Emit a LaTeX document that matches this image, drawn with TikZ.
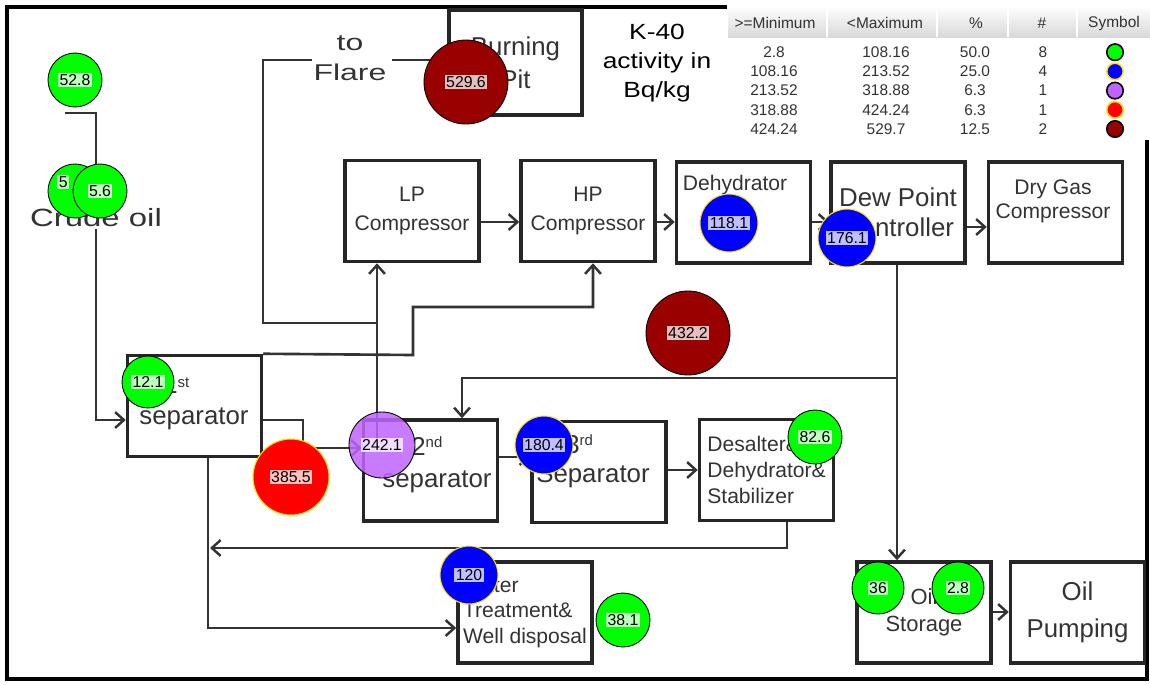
\documentclass[tikz,border=0pt]{standalone}
\usepackage{fontspec}
\setmainfont{Liberation Sans}
\usetikzlibrary{arrows.meta,calc,positioning}

\definecolor{kgreen}{RGB}{0,255,0}
\definecolor{kblue}{RGB}{0,0,255}
\definecolor{kpurple}{RGB}{192,100,255}
\definecolor{kred}{RGB}{255,0,0}
\definecolor{kdark}{RGB}{153,0,0}
\definecolor{kyellow}{RGB}{255,230,0}

\newcommand\fsz[2]{\fontsize{#1}{#2}\selectfont}
\newcommand\ordx[2]{\raisebox{#1}{\fsz{8.5}{8.5}#2}}

\begin{document}
\begin{tikzpicture}[x=0.02cm,y=-0.02cm,
  box/.style={draw=black!85,line width=2pt,minimum width=2.68cm,minimum height=2.02cm,inner sep=0pt,text=black!80},
  txt/.style={inner sep=0pt,text=black!80},
  pipe/.style={draw=black!80,line width=1.5pt},
  flow/.style={pipe,-{Straight Barb[length=5pt,width=9pt,line width=1.4pt]}},
  val/.style={fill=white,fill opacity=0.75,text opacity=1,inner sep=0.8pt,font=\fsz{9}{9}},
  lvA/.style={circle,draw=black,line width=0.5pt,fill=kgreen,inner sep=0pt,label={[val]center:#1}},
  lvB/.style={circle,draw=kyellow,line width=0.6pt,fill=kblue,inner sep=0pt,label={[val]center:#1}},
  lvC/.style={circle,draw=black,line width=0.5pt,fill=kpurple,fill opacity=0.85,inner sep=0pt,label={[val]center:#1}},
  lvD/.style={circle,draw=kyellow,line width=0.6pt,fill=kred,inner sep=0pt,label={[val]center:#1}},
  lvE/.style={circle,draw=black,line width=0.5pt,fill=kdark,inner sep=0pt,label={[val]center:#1}},
  tab/.style={inner sep=0pt,text=black!80,font=\fsz{8.8}{8.8}}
]
\useasboundingbox (0,0) rectangle (1150,684);

\draw[line width=2.8pt] (7,7) rectangle (1147,679);

% process blocks
\node[box,minimum width=2.66cm,minimum height=2.1cm,font=\fsz{14.7}{18.7},align=center] (pit) at (515.5,62.5) {Burning\\Pit};
\node[box,font=\fsz{12}{16.4},align=center] (lp) at (412,211) {LP\\Compressor};
\node[box,font=\fsz{12}{16.4},align=center] (hp) at (588,211) {HP\\Compressor};
\node[box] (dehy) at (743.5,212.5) {};
\node[box,font=\fsz{14.7}{17},align=center] (dew) at (898,212.5) {Dew Point\\Controller};
\node[box] (dry) at (1055.5,212.5) {};
\node[box] (sep1) at (194.5,406) {};
\node[box] (sep2) at (430.5,470.5) {};
\node[box] (sep3) at (599,472) {};
\node[box,font=\fsz{12}{14.7},align=left] (desalt) at (766.5,470) {Desalter\&\\Dehydrator\&\\Stabilizer};
\node[box,font=\fsz{12}{14.5},align=left] (water) at (525,612.5) {Water\\Treatment\&\\Well disposal};
\node[box,font=\fsz{12.5}{15.3},align=center] (store) at (924,612.5) {Oil\\Storage};
\node[box,font=\fsz{14.7}{21},align=center] (pump) at (1077.5,612.5) {Oil\\Pumping};

\node[txt,anchor=base,font=\fsz{12}{12}] (dehyT) at (735,190) {Dehydrator};
\node[txt,align=center,font=\fsz{12}{13.6}] (dryT) at (1053,201) {Dry Gas\\Compressor};
\node[txt,anchor=base west,font=\fsz{14.7}{14.7}] (sep1a) at (163,393) {1\ordx{3.4pt}{st}};
\node[txt,anchor=base,font=\fsz{14.7}{14.7}] (sep1b) at (194,424) {separator};
\node[txt,anchor=base west,font=\fsz{14.7}{14.7}] (sep2a) at (411,455) {2\ordx{4.5pt}{nd}};
\node[txt,anchor=base,font=\fsz{14.7}{14.7}] (sep2b) at (437,487) {separator};
\node[txt,anchor=base west,font=\fsz{14.7}{14.7}] (sep3a) at (565,453) {3\ordx{4.5pt}{rd}};
\node[txt,anchor=base,font=\fsz{14.7}{14.7}] (sep3b) at (593,482) {Separator};

% junctions
\coordinate (crude) at (65,113);
\coordinate (flareL) at (312,60);
\coordinate (flareR) at (392,60);
\coordinate (jLP) at (377,448);
\coordinate (jFlare) at (377,323);
\coordinate (jBack) at (897,378);
\coordinate (jRet) at (210,548);

\draw[flow] (crude) -- (96,113) -- (96,420) -- (sep1.west |- 0,420);
\draw[flow] (sep1.east |- 0,420) -- (303,420) -- (303,448) -- (sep2.west |- 0,448);
\draw[flow] (jLP) -- (jLP |- lp.south);
\draw[pipe] (jFlare) -- (263,323) -- (263,60) -- (flareL);
\draw[flow] (flareR) -- (pit.west |- 0,60);
\draw[flow] (sep1.north east) -- (413,355) -- (413,307) -- (593,307) -- (hp.south -| 593,0);
\draw[flow] (lp.east |- 0,222) -- (hp.west |- 0,222);
\draw[flow] (hp.east |- 0,222) -- (dehy.west |- 0,222);
\draw[flow] (dehy.east |- 0,222) -- (dew.west |- 0,222);
\draw[flow] (dew.east |- 0,227) -- (dry.west |- 0,227);
\draw[flow] (dew.south -| 897,0) -- (store.north -| 897,0);
\draw[flow] (jBack) -- (462,378) -- (sep2.north -| 462,0);
\draw[flow] (sep2.east |- 0,457) -- (sep3.west |- 0,457);
\draw[flow] (sep3.east |- 0,470) -- (desalt.west |- 0,470);
\draw[flow] (desalt.south -| 787,0) -- (787,548) -- (jRet);
\draw[flow] (sep1.south -| 208,0) -- (208,628) -- (water.west |- 0,628);
\draw[flow] (store.east |- 0,612) -- (pump.west |- 0,612);

\node[txt,fill=white,inner sep=1pt,font=\fsz{14.2}{14.2}] (crudeT) at (96,218) {\scalebox{1.32}[1]{Crude oil}};
\node[txt,align=center,font=\fsz{13}{17}] (flareT) at (350,58) {\scalebox{1.4}[1]{to}\\\scalebox{1.4}[1]{Flare}};
\node[inner sep=0pt,align=center,font=\fsz{12.5}{16.5}] (title) at (657,63) {\scalebox{1.2}[1]{K-40}\\\scalebox{1.2}[1]{activity in}\\\scalebox{1.2}[1]{Bq/kg}};

% legend table
\fill[white] (727,3) rectangle (1150,140);
\shade[top color=white,bottom color=black!15] (728,6) rectangle (1150,37);
\foreach \sx in {827,937,1008,1077}
  \draw[white,line width=1pt] (\sx,6) -- (\sx,37);
\foreach \hx/\hs [count=\i] in {775/{>=Minimum},885/{<Maximum},976/{\%},1042/{\#},1114/{Symbol}}
  \node[tab] (h\i) at (\hx,23) {\hs};
\foreach \a/\b/\c/\d/\f/\g [count=\i] in {2.8/108.16/50.0/8/kgreen/black,108.16/213.52/25.0/4/kblue/kyellow,213.52/318.88/6.3/1/kpurple/black,318.88/424.24/6.3/1/kred/kyellow,424.24/529.7/12.5/2/kdark/black}{
  \node[tab] (r\i a) at (774,{33+19.2*\i}) {\a};
  \node[tab] (r\i b) at (886,{33+19.2*\i}) {\b};
  \node[tab] (r\i c) at (975,{33+19.2*\i}) {\c};
  \node[tab] (r\i d) at (1043,{33+19.2*\i}) {\d};
  \node[circle,fill=\f,draw=\g,line width=0.9pt,minimum size=0.33cm,inner sep=0pt] (s\i) at (1115,{33+19.2*\i}) {};
}

% activity markers
\node[lvA=52.8,minimum size=1.08cm] (c1) at (75,80) {};
\node[circle,draw=black,line width=0.5pt,fill=kgreen,minimum size=1.08cm,inner sep=0pt] (c2) at (75,191) {};
\node[val,anchor=west] (c2t) at (57,182) {5};
\node[lvA=5.6,minimum size=1.08cm] (c3) at (100,191) {};
\node[lvA=12.1,minimum size=1.04cm] (c4) at (148,382) {};
\node[lvE=529.6,minimum size=1.68cm] (c5) at (466,82) {};
\node[lvD=385.5,minimum size=1.52cm] (c6) at (291,477) {};
\node[lvC=242.1,minimum size=1.32cm] (c7) at (382,445) {};
\node[lvB=180.4,minimum size=1.16cm] (c8) at (544,445) {};
\node[lvA=82.6,minimum size=1.08cm] (c9) at (815,437) {};
\node[lvB=120,minimum size=1.16cm] (c10) at (469,575) {};
\node[lvA=38.1,minimum size=1.08cm] (c11) at (623,620) {};
\node[lvB=118.1,minimum size=1.16cm] (c12) at (729,223) {};
\node[lvB=176.1,minimum size=1.16cm] (c13) at (847,238) {};
\node[lvE=432.2,minimum size=1.68cm] (c14) at (688,333) {};
\node[lvA=36,minimum size=1.04cm] (c15) at (878,588) {};
\node[lvA=2.8,minimum size=1.04cm] (c16) at (958,588) {};

\end{tikzpicture}
\end{document}
